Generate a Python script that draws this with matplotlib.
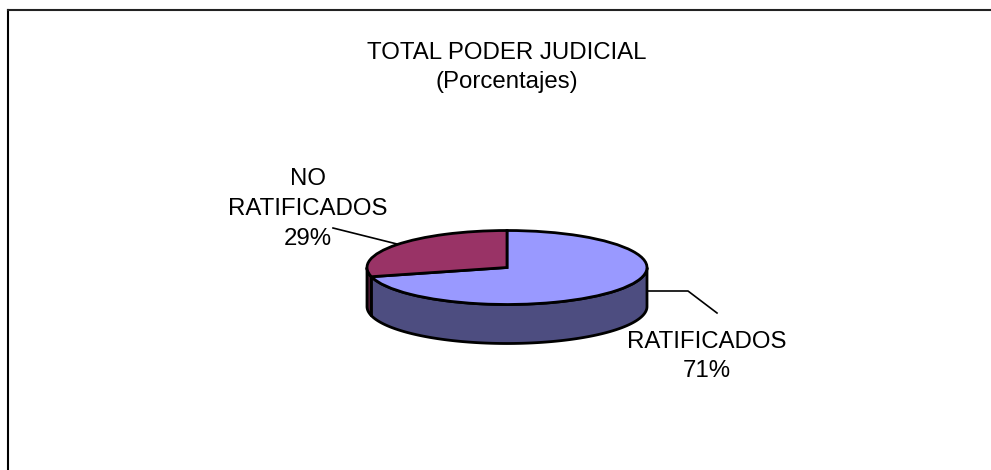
"""Exploded-free 3D-look pie: TOTAL PODER JUDICIAL."""
import matplotlib

matplotlib.use("Agg")
import matplotlib.pyplot as plt
import numpy as np

labels = ["RATIFICADOS", "NO\nRATIFICADOS"]
values = [71, 29]
top_colors = ["#9999FF", "#993366"]
side_colors = ["#4D4D80", "#4D1A33"]

W, H = 991, 470
CX, CY = 507, 267.5  # pie centre, pixels
RX, RY = 140, 37
DEPTH = 39 / RY

plt.rcParams["font.family"] = ["Liberation Sans", "DejaVu Sans"]

fig = plt.figure(figsize=(W / 100, H / 100), dpi=100)

# page axes in pixel coords for the frame, texts and leaders
page = fig.add_axes([0, 0, 1, 1])
page.set_xlim(0, W)
page.set_ylim(H, 0)
page.axis("off")
page.plot([8, 8], [H + 2, 10], color="black", lw=1.5, clip_on=False)
page.plot([8, W + 2], [10, 10], color="#222222", lw=1.5, clip_on=False)

FS = 17.3
LS = 1.47
page.text(507, 67.5, "TOTAL PODER JUDICIAL\n(Porcentajes)", ha="center", va="center",
          fontsize=FS, color="black", linespacing=LS)
page.text(308, 209, labels[1] + f"\n{values[1]}%", ha="center", va="center",
          fontsize=FS, linespacing=LS)
page.text(707, 356.5, labels[0] + f"\n{values[0]}%", ha="center", va="center",
          fontsize=FS, linespacing=LS)
page.plot([333, 397], [228, 244], color="black", lw=1.2)
page.plot([647, 688, 717], [291, 291, 313], color="black", lw=1.2)

# pie axes: one data unit is RX px across and RY px down
ax = fig.add_axes([0, 0, 1, 1], facecolor="none")
ax.axis("off")

# slice angles, clockwise from 12 o'clock
edges = 90 - np.cumsum([0] + values) * 3.6
for i in range(len(values)):
    hi, lo = edges[i], edges[i + 1]
    # keep only the part of the slice rim on the front half (180..360 deg)
    a = np.arange(hi, lo - 0.5, -0.5) % 360
    a = a[(a >= 180) & (a <= 360)]
    if a.size == 0:
        continue
    t = np.radians(a)
    x, y = np.cos(t), np.sin(t)
    ax.fill(np.r_[x, x[::-1]], np.r_[y, y[::-1] - DEPTH], facecolor=side_colors[i],
            edgecolor="black", lw=2, joinstyle="round")

ax.pie(values, startangle=90, counterclock=False, colors=top_colors, radius=1,
       center=(0, 0), frame=True,
       wedgeprops={"edgecolor": "black", "linewidth": 2})
ax.set_aspect("auto")
ax.set_xlim(-CX / RX, (W - CX) / RX)
ax.set_ylim(-(H - CY) / RY, CY / RY)
ax.axis("off")

fig.savefig("out.png", dpi=100, facecolor="white")
